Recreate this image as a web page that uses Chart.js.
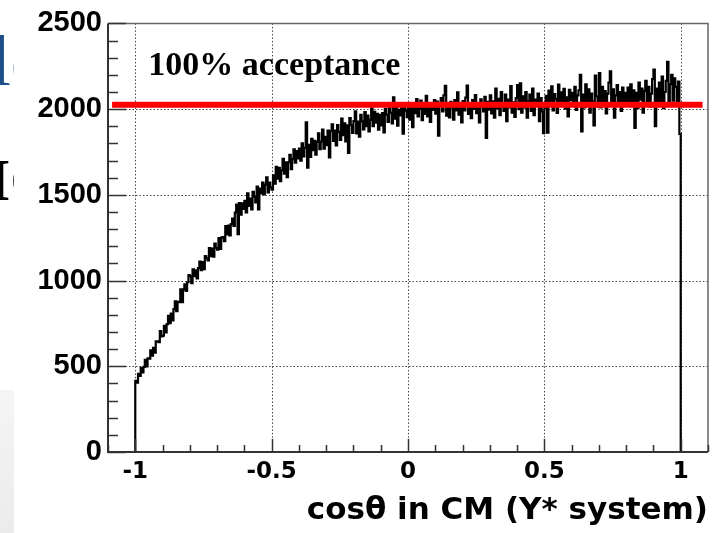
<!DOCTYPE html>
<html>
<head>
<meta charset="utf-8">
<title>cos theta acceptance</title>
<script src="https://cdn.jsdelivr.net/npm/chart.js@4.4.1/dist/chart.umd.min.js"></script>
<style>
  html, body { margin: 0; padding: 0; background: #fff; }
  #wrap { position: relative; width: 728px; height: 533px; overflow: hidden; }
  .slide { position: absolute; left: 0; width: 14px; overflow: hidden; white-space: nowrap; }
  #slideBlue { top: 20px; height: 80px; }
  #slideBlue span { position: absolute; left: -9px; top: 0; font: 72px "Liberation Serif", serif; color: #1f4e8c; }
  #slideBlack { top: 148px; height: 64px; }
  #slideBlack span { position: absolute; left: -13px; top: -2px; font: bold 60px "Liberation Serif", serif; color: #000; }
  #slideGrey { top: 390px; height: 143px; background: linear-gradient(#f5f5f5, #ebebeb); }
  canvas { position: absolute; left: 0; top: 0; }
</style>
</head>
<body>
<div id="wrap">
  <div class="slide" id="slideBlue"><span>ld</span></div>
  <div class="slide" id="slideBlack"><span>IC</span></div>
  <div class="slide" id="slideGrey"></div>
  <canvas id="c" width="728" height="533"></canvas>
</div>
<script>
// histogram range, bins are equal width between these edges
const histMin = -1;
const histMax = 1;

// counts per bin, cos(theta) from -1 to 0 (20 bins per row = 0.1)
const countsNeg = [
  415,404,456,444,491,465,497,538,500,546,545,593,562,607,580,645,646,641,705,675,
  678,736,697,746,794,752,808,767,833,879,822,876,874,948,874,948,978,940,990,1032,
  1025,985,1065,1025,1060,1013,1073,1110,1060,1107,1067,1143,1130,1117,1190,1143,1187,1140,1215,1190,
  1180,1247,1184,1251,1253,1230,1317,1269,1321,1263,1330,1362,1319,1396,1443,1270,1452,1384,1451,1418,
  1465,1397,1509,1436,1478,1415,1517,1489,1456,1548,1415,1537,1509,1571,1503,1560,1602,1514,1571,1543,
  1530,1613,1565,1663,1595,1658,1580,1643,1710,1623,1690,1603,1690,1733,1650,1708,1765,1688,1755,1713,
  1770,1700,1800,1724,1774,1923,1658,1792,1722,1826,1761,1815,1735,1809,1858,1767,1811,1880,1769,1838,
  1790,1874,1718,1872,1911,1815,1874,1788,1907,1866,1820,1944,1848,1917,1811,1905,1744,1948,1907,1861,
  1930,1987,1859,1927,1839,1966,1928,1881,1983,1900,1962,1870,1937,2004,1901,1984,1921,1973,1880,1967,
  1905,1977,1864,2001,1968,1925,2017,1979,1916,2068,1945,2007,1904,1996,1963,2030,1857,2014,1991,1953
];

// counts per bin, cos(theta) from 0 to 1
const countsPos = [
  2008,1939,2035,1895,2021,1977,2058,1958,2004,2050,1936,2021,1972,2078,1958,2014,1925,2035,1996,2052,
  1973,2044,1845,2030,2065,1986,2081,2136,1962,2027,1952,2042,2012,1938,2053,1993,2098,1968,2033,1923,
  2047,1992,2067,2137,1972,2027,1947,2052,2002,2082,1977,2032,1922,2057,2017,1987,2072,1832,2042,1997,
  2080,1975,2045,1950,2120,2005,2060,1965,2100,2030,1990,2085,1930,2055,2010,2135,1980,2040,1955,2065,
  2140,2000,2150,1980,2075,2010,2100,1950,2045,2085,1990,2120,1965,2055,2020,2090,1930,2065,1985,1860,
  2008,2078,1863,2108,2028,2133,1993,2088,2058,1978,2143,2023,2098,2038,2118,2003,2068,1958,2113,2053,
  2095,2025,2130,1995,2080,2110,2200,1870,2085,2010,2145,2035,2115,1980,2090,2045,1905,2195,2075,2015,
  2210,2010,2130,2040,2105,1975,2090,2155,2220,2020,2115,1950,2080,2140,2030,2100,1990,2125,2045,2095,
  2035,2125,2020,2145,2045,2110,1890,2095,2005,2155,2055,2120,1980,2105,2165,2030,2130,2015,2090,2175,
  2230,1900,2120,2030,2155,2045,2190,2005,2100,2165,2275,2020,2145,2200,2050,2180,2130,2035,2160,1855
];

// the red "100% acceptance" level
const acceptanceLevel = 2025;
const acceptanceFrom = -1.085;
const acceptanceTo = 1.08;
const acceptanceText = "100% acceptance";
const acceptanceTextAt = [-0.952, 2200];

const xTickValues = [-1, -0.5, 0, 0.5, 1];
const yTickValues = [0, 500, 1000, 1500, 2000, 2500];
const xTitle = "cosθ in CM (Y* system)";

function histPoints(){
  const counts = countsNeg.concat(countsPos);
  const w = (histMax - histMin) / counts.length;
  const pts = [{x: histMin, y: 0}];
  counts.forEach((c, i) => pts.push({x: histMin + i * w, y: c}));
  pts.push({x: histMax, y: counts[counts.length - 1]});
  pts.push({x: histMax, y: 0});
  return pts;
}

// ROOT style frame: dotted grid, grey box, ticks pointing inwards
const rootFrame = {
  id: "rootFrame",
  beforeDatasetsDraw(chart){
    const {ctx, chartArea: a, scales: {x, y}} = chart;
    ctx.save();
    ctx.strokeStyle = "#444";
    ctx.lineWidth = 1;
    ctx.setLineDash([1.5, 2]);
    ctx.beginPath();
    for(const v of xTickValues){
      const px = Math.round(x.getPixelForValue(v)) + 0.5;
      ctx.moveTo(px, a.top); ctx.lineTo(px, a.bottom);
    }
    for(const v of yTickValues){
      if(v <= y.min || v >= y.max) continue;
      const py = Math.round(y.getPixelForValue(v)) + 0.5;
      ctx.moveTo(a.left, py); ctx.lineTo(a.right, py);
    }
    ctx.stroke();
    ctx.restore();
  },
  afterDatasetsDraw(chart){
    const {ctx, chartArea: a, scales: {x, y}} = chart;
    ctx.save();
    ctx.setLineDash([]);
    // top and right of the box
    ctx.strokeStyle = "#666";
    ctx.lineWidth = 1.5;
    ctx.beginPath();
    ctx.moveTo(a.left, a.top); ctx.lineTo(a.right, a.top); ctx.lineTo(a.right, a.bottom);
    ctx.stroke();
    // axes
    ctx.strokeStyle = "#333";
    ctx.lineWidth = 2;
    ctx.beginPath();
    ctx.moveTo(a.left, a.top); ctx.lineTo(a.left, a.bottom); ctx.lineTo(a.right, a.bottom);
    ctx.stroke();
    ctx.lineWidth = 1.5;
    ctx.beginPath();
    for(let i = 0; i <= 25; i++){
      const py = Math.round(y.getPixelForValue(i * 100)) + 0.5;
      const len = i % 5 === 0 ? 18 : 10;
      ctx.moveTo(a.left, py); ctx.lineTo(a.left + len, py);
    }
    for(let i = -11; i <= 11; i++){
      const px = Math.round(x.getPixelForValue(i / 10)) + 0.5;
      const len = i % 5 === 0 ? 13 : 7;
      ctx.moveTo(px, a.bottom); ctx.lineTo(px, a.bottom - len);
    }
    ctx.stroke();
    // label
    ctx.fillStyle = "#000";
    ctx.font = 'bold 34px "Liberation Serif", serif';
    ctx.textBaseline = "alphabetic";
    ctx.fillText(acceptanceText, x.getPixelForValue(acceptanceTextAt[0]), y.getPixelForValue(acceptanceTextAt[1]));
    ctx.restore();
  }
};

new Chart(document.getElementById("c"), {
  type: "line",
  data: {
    datasets: [
      {
        label: "acceptance",
        data: [{x: acceptanceFrom, y: acceptanceLevel}, {x: acceptanceTo, y: acceptanceLevel}],
        borderColor: "#ff0000",
        borderWidth: 6,
        borderCapStyle: "butt",
        pointRadius: 0
      },
      {
        label: "counts",
        data: histPoints(),
        borderColor: "#000",
        borderWidth: 2.2,
        stepped: true,
        pointRadius: 0,
        fill: false
      }
    ]
  },
  options: {
    responsive: false,
    animation: false,
    events: [],
    layout: { padding: { top: 21, right: 20, left: 0, bottom: 0 } },
    plugins: { legend: { display: false }, tooltip: { enabled: false } },
    scales: {
      x: {
        type: "linear",
        min: -1.1,
        max: 1.1,
        afterBuildTicks: s => { s.ticks = xTickValues.map(v => ({value: v})); },
        afterFit: s => { s.height = 81; },
        grid: { display: false, drawTicks: false },
        border: { display: false },
        ticks: {
          color: "#000",
          padding: 6,
          maxRotation: 0,
          autoSkip: false,
          font: { family: '"DejaVu Sans", sans-serif', size: 23, weight: "bold" },
          callback: v => String(v)
        },
        title: {
          display: true,
          text: xTitle,
          align: "end",
          color: "#000",
          font: { family: '"DejaVu Sans", sans-serif', size: 31, weight: "bold" },
          padding: { top: 0, bottom: 3 }
        }
      },
      y: {
        min: 0,
        max: 2500,
        afterBuildTicks: s => { s.ticks = yTickValues.map(v => ({value: v})); },
        afterFit: s => { s.width = 108; },
        grid: { display: false, drawTicks: false },
        border: { display: false },
        ticks: {
          color: "#000",
          padding: 6,
          font: { family: '"Liberation Sans", Arial, sans-serif', size: 29, weight: "bold" },
          callback: v => String(v)
        }
      }
    }
  },
  plugins: [rootFrame]
});
</script>
</body>
</html>
